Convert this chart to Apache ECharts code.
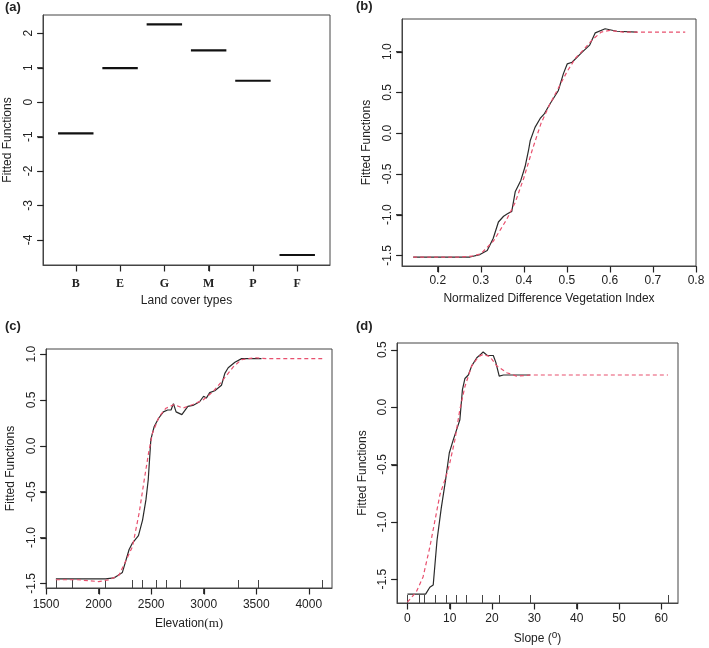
<!DOCTYPE html>
<html>
<head>
<meta charset="utf-8">
<script src="https://cdn.jsdelivr.net/npm/echarts@6.0.0/dist/echarts.min.js"></script>
<style>
  html, body { margin: 0; padding: 0; background: #fff; }
  #main { width: 709px; height: 648px; }
</style>
</head>
<body>
<div id="main"></div>
<script>
// (a) land cover effects
var landTypes = ['B', 'E', 'G', 'M', 'P', 'F'];
var landEffect = [-0.91, 0.99, 2.26, 1.50, 0.62, -4.44];

// (b) NDVI
var ndviX = [0.143, 0.20, 0.25, 0.275, 0.298, 0.315, 0.329, 0.341, 0.353, 0.362, 0.372, 0.380, 0.393, 0.403, 0.411, 0.415, 0.426, 0.438, 0.448, 0.461, 0.480, 0.492, 0.501, 0.512, 0.535, 0.553, 0.566, 0.589, 0.616, 0.663];
var ndviFit = [-1.52, -1.52, -1.52, -1.52, -1.49, -1.44, -1.29, -1.09, -1.02, -0.99, -0.96, -0.72, -0.58, -0.41, -0.21, -0.09, 0.07, 0.18, 0.24, 0.36, 0.52, 0.73, 0.85, 0.87, 0.99, 1.08, 1.23, 1.28, 1.25, 1.24];
var ndviSmoothX = [0.143, 0.20, 0.25, 0.28, 0.30, 0.33, 0.36, 0.38, 0.40, 0.42, 0.44, 0.46, 0.48, 0.50, 0.52, 0.54, 0.56, 0.58, 0.60, 0.63, 0.70, 0.775];
var ndviSmooth = [-1.52, -1.52, -1.52, -1.51, -1.48, -1.32, -1.06, -0.85, -0.55, -0.20, 0.12, 0.35, 0.55, 0.75, 0.92, 1.03, 1.15, 1.24, 1.26, 1.24, 1.24, 1.24];

// (c) elevation
var elevX = [1593, 1800, 2066, 2146, 2226, 2290, 2322, 2379, 2418, 2450, 2472, 2497, 2529, 2571, 2616, 2657, 2689, 2712, 2737, 2792, 2849, 2897, 2961, 2999, 3025, 3057, 3105, 3169, 3201, 3233, 3297, 3361, 3550];
var elevFit = [-1.45, -1.45, -1.45, -1.44, -1.38, -1.13, -1.06, -0.98, -0.81, -0.59, -0.37, 0.07, 0.21, 0.30, 0.37, 0.39, 0.39, 0.46, 0.37, 0.34, 0.43, 0.44, 0.48, 0.54, 0.52, 0.58, 0.60, 0.66, 0.79, 0.85, 0.91, 0.95, 0.95];
var elevSmoothX = [1593, 1800, 2000, 2100, 2194, 2322, 2386, 2434, 2475, 2513, 2577, 2641, 2721, 2801, 2897, 2993, 3089, 3185, 3281, 3361, 3489, 3600, 4128];
var elevSmooth = [-1.46, -1.46, -1.48, -1.46, -1.41, -1.10, -0.73, -0.37, -0.08, 0.14, 0.32, 0.41, 0.45, 0.41, 0.45, 0.50, 0.59, 0.72, 0.86, 0.94, 0.96, 0.95, 0.95];
var elevRug = [1593, 1746, 2059, 2322, 2418, 2545, 2641, 2779, 3325, 3520, 4128];

// (d) slope
var slopeX = [0, 4.3, 5.3, 6.1, 7.0, 8.0, 9.0, 9.9, 10.8, 11.6, 12.4, 13.0, 13.6, 14.4, 15.2, 16.4, 17.3, 17.9, 18.9, 20.3, 20.9, 21.7, 22.7, 29.0];
var slopeFit = [-1.63, -1.63, -1.57, -1.55, -1.16, -0.88, -0.64, -0.40, -0.29, -0.20, -0.11, 0.15, 0.25, 0.28, 0.36, 0.43, 0.46, 0.48, 0.45, 0.45, 0.39, 0.27, 0.28, 0.28];
var slopeSmoothX = [0, 2.1, 3.7, 5.3, 6.5, 7.7, 9.0, 10.0, 11.2, 12.4, 13.6, 15.2, 16.8, 17.9, 19.5, 21.1, 23.5, 25.8, 29.0, 61.6];
var slopeSmooth = [-1.70, -1.61, -1.48, -1.22, -0.99, -0.76, -0.62, -0.49, -0.29, -0.02, 0.18, 0.36, 0.44, 0.46, 0.44, 0.36, 0.30, 0.27, 0.28, 0.28];
var slopeRug = [0, 2.9, 4.0, 6.6, 9.2, 11.5, 14.0, 17.7, 21.7, 29.0, 61.6];

// tick labels
var xTicksA = [1, 2, 3, 4, 5, 6];
var yTicksA = [-4, -3, -2, -1, 0, 1, 2];
var yTicksB = [-1.5, -1.0, -0.5, 0.0, 0.5, 1.0];
var yTicksC = [-1.5, -1.0, -0.5, 0.0, 0.5, 1.0];
var yTicksD = [-1.5, -1.0, -0.5, 0.0, 0.5];
var xTicksB = [0.2, 0.3, 0.4, 0.5, 0.6, 0.7, 0.8];
var xTicksC = [1500, 2000, 2500, 3000, 3500, 4000];
var xTicksD = [0, 10, 20, 30, 40, 50, 60];

var FONT = 'Liberation Sans';
var AXIS = '#444';
var TEXT = '#222';

// panel ranges (R style, padded 4%)
var rangeA = { x: [0.26, 6.74], y: [-4.73, 2.53] };
var rangeB = { x: [0.117, 0.80], y: [-1.63, 1.40] };
var rangeC = { x: [1499, 4221], y: [-1.55, 1.055] };
var rangeD = { x: [-2.46, 63.96], y: [-1.707, 0.559] };

function pairs(xs, ys) {
  return xs.map(function (x, i) { return [x, ys[i]]; });
}

function grid(left, top, width, height) {
  return {
    left: left, top: top, width: width, height: height,
    show: true, borderColor: AXIS, borderWidth: 1,
    containLabel: false, outerBoundsMode: 'none'
  };
}

function yAxis(gi, r, ticks, digits, gap) {
  return {
    type: 'value', gridIndex: gi, min: r[0], max: r[1], position: 'left',
    name: 'Fitted Functions', nameLocation: 'middle', nameGap: gap,
    nameTextStyle: { fontFamily: FONT, fontSize: 12, color: TEXT },
    axisLine: { show: true, onZero: false, lineStyle: { color: AXIS, width: 1 } },
    splitLine: { show: false },
    axisTick: { show: true, inside: false, length: 6, customValues: ticks, lineStyle: { color: AXIS, width: 1 } },
    axisLabel: {
      customValues: ticks, rotate: 90, margin: 8,
      fontFamily: FONT, fontSize: 12, color: TEXT,
      formatter: function (v) { return v.toFixed(digits); }
    }
  };
}

function xAxis(gi, r, ticks, name, gap, margin, fmt, labelFont) {
  return {
    type: 'value', gridIndex: gi, min: r[0], max: r[1], position: 'bottom',
    name: name, nameLocation: 'middle', nameGap: gap,
    nameTextStyle: {
      fontFamily: FONT, fontSize: 12, color: TEXT,
      rich: {
        u: { fontFamily: 'Liberation Serif', fontSize: 13, color: TEXT },
        s: { fontFamily: FONT, fontSize: 10, color: TEXT, padding: [0, 0, 7, 0] }
      }
    },
    axisLine: { show: true, onZero: false, lineStyle: { color: AXIS, width: 1 } },
    splitLine: { show: false },
    axisTick: { show: true, inside: false, length: 6, customValues: ticks, lineStyle: { color: AXIS, width: 1 } },
    axisLabel: {
      customValues: ticks, margin: margin,
      fontFamily: labelFont ? labelFont.family : FONT,
      fontWeight: labelFont ? labelFont.weight : 'normal',
      fontSize: 12, color: TEXT,
      formatter: fmt
    }
  };
}

// rug: inside ticks at the data positions
function rugAxis(gi, r, values) {
  return {
    type: 'value', gridIndex: gi, min: r[0], max: r[1], position: 'bottom', offset: 0,
    axisLine: { show: false, onZero: false },
    splitLine: { show: false },
    axisLabel: { show: false },
    axisTick: { show: true, inside: true, length: 8, customValues: values, lineStyle: { color: AXIS } }
  };
}

// outward tick marks hanging off the frame, placed through the axes' scales
function outerTicks(idx, r, values, dir) {
  return {
    type: 'custom', xAxisIndex: idx, yAxisIndex: idx, clip: false, silent: true, z: 10,
    data: values.map(function (v) { return dir === 'x' ? [v, r.y[0]] : [r.x[0], v]; }),
    renderItem: function (params, api) {
      var p = api.coord([api.value(0), api.value(1)]);
      var x = Math.round(p[0]) + 0.5, y = Math.round(p[1]) + 0.5;
      var shape = dir === 'x'
        ? { x1: x, y1: y, x2: x, y2: y + 6 }
        : { x1: x, y1: y, x2: x - 6, y2: y };
      return { type: 'line', shape: shape, style: { stroke: '#222', lineWidth: 1.2 } };
    }
  };
}

function fitLine(xi, yi, data) {
  return {
    type: 'line', xAxisIndex: xi, yAxisIndex: yi, data: data,
    showSymbol: false, symbol: 'none', smooth: false, z: 3,
    lineStyle: { color: '#2a2a2a', width: 1.2 }
  };
}

function smoothLine(xi, yi, data) {
  return {
    type: 'line', xAxisIndex: xi, yAxisIndex: yi, data: data,
    showSymbol: false, symbol: 'none', smooth: false, z: 4,
    lineStyle: { color: '#e8506e', width: 1.2, type: [4, 3] }
  };
}

function panelTitle(text, left, top) {
  return {
    text: text, left: left, top: top, padding: 0,
    textStyle: { fontFamily: FONT, fontSize: 13, fontWeight: 'bold', color: TEXT }
  };
}

var chart = echarts.init(document.getElementById('main'), null, { renderer: 'canvas' });

var option = {
  backgroundColor: '#fff',
  animation: false,
  title: [
    panelTitle('(a)', 5, 1),
    panelTitle('(b)', 356, 0),
    panelTitle('(c)', 5, 320),
    panelTitle('(d)', 356, 320)
  ],
  grid: [
    grid(43, 15, 287, 250),
    grid(402, 19, 294, 247),
    grid(46, 349, 286, 239),
    grid(397, 343, 281, 260)
  ],
  xAxis: [
    xAxis(0, rangeA.x, xTicksA, 'Land cover types', 30, 13,
      function (v) { return landTypes[v - 1]; }, { family: 'Liberation Serif', weight: 'bold' }),
    xAxis(1, rangeB.x, xTicksB, 'Normalized Difference Vegetation Index', 27, 9, function (v) { return v.toFixed(1); }),
    xAxis(2, rangeC.x, xTicksC, 'Elevation{u|(m)}', 29, 11, function (v) { return String(v); }),
    xAxis(3, rangeD.x, xTicksD, 'Slope ({s|o})', 27, 10, function (v) { return String(v); }),
    rugAxis(2, rangeC.x, elevRug),
    rugAxis(3, rangeD.x, slopeRug)
  ],
  yAxis: [
    yAxis(0, rangeA.y, yTicksA, 0, 29),
    yAxis(1, rangeB.y, yTicksB, 1, 29),
    yAxis(2, rangeC.y, yTicksC, 1, 29),
    yAxis(3, rangeD.y, yTicksD, 1, 28)
  ],
  series: [
    {
      type: 'custom', xAxisIndex: 0, yAxisIndex: 0,
      data: landEffect.map(function (v, i) { return [i + 1, v]; }),
      renderItem: function (params, api) {
        var a = api.coord([api.value(0) - 0.4, api.value(1)]);
        var b = api.coord([api.value(0) + 0.4, api.value(1)]);
        return {
          type: 'line',
          shape: { x1: a[0], y1: a[1], x2: b[0], y2: b[1] },
          style: { stroke: '#111', lineWidth: 2.2 }
        };
      }
    },
    fitLine(1, 1, pairs(ndviX, ndviFit)),
    smoothLine(1, 1, pairs(ndviSmoothX, ndviSmooth)),
    fitLine(2, 2, pairs(elevX, elevFit)),
    smoothLine(2, 2, pairs(elevSmoothX, elevSmooth)),
    fitLine(3, 3, pairs(slopeX, slopeFit)),
    smoothLine(3, 3, pairs(slopeSmoothX, slopeSmooth)),
    outerTicks(0, rangeA, xTicksA, 'x'),
    outerTicks(1, rangeB, xTicksB, 'x'),
    outerTicks(2, rangeC, xTicksC, 'x'),
    outerTicks(3, rangeD, xTicksD, 'x'),
    outerTicks(0, rangeA, yTicksA, 'y'),
    outerTicks(1, rangeB, yTicksB, 'y'),
    outerTicks(2, rangeC, yTicksC, 'y'),
    outerTicks(3, rangeD, yTicksD, 'y')
  ]
};

chart.setOption(option);
</script>
</body>
</html>
